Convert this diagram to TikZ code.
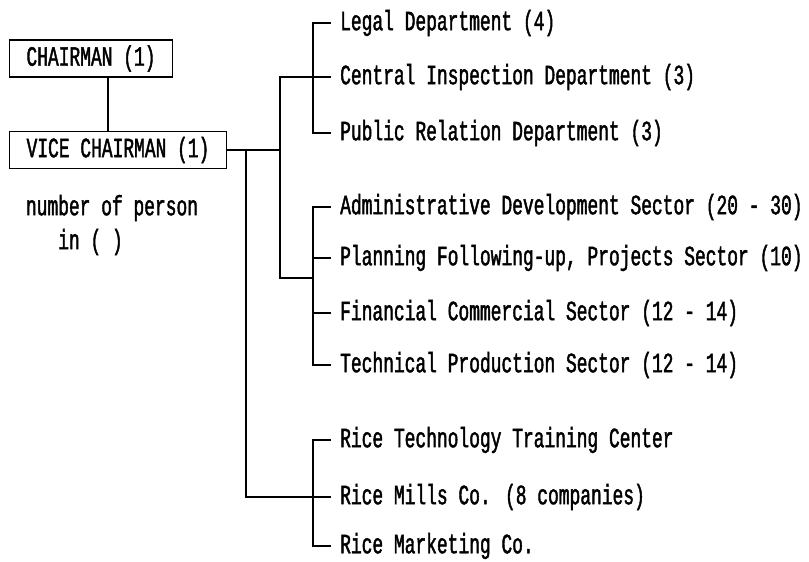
\documentclass[tikz,border=0pt]{standalone}
\usepackage{fontspec}
\newfontfamily\orgfont[FakeStretch=0.64,FakeBold=1.5]{Liberation Mono}
\tikzset{
	post/.style={draw, line width=1.6pt, inner xsep=17pt, minimum height=37pt},
	unit/.style={anchor=west, inner xsep=9pt},
	link/.style={line width=1.5pt}
}
\begin{document}
\begin{tikzpicture}[x=1pt, y=-1pt, font=\orgfont\fontsize{28}{34}\selectfont]
		\useasboundingbox (0,0) rectangle (809,562);

		% Top posts
		\node[post] (chair) at (91, 58.5) {CHAIRMAN (1)};
		\node[post] (vice) at (118, 150) {VICE CHAIRMAN (1)};
		\node[align=left, inner sep=0pt] (note) at (112, 225) {number of person\\\phantom{nnn}in ( )};

		% Departments
		\node[unit] (legal) at (331, 23) {Legal Department (4)};
		\node[unit] (inspect) at (331, 77) {Central Inspection Department (3)};
		\node[unit] (relation) at (331, 133) {Public Relation Department (3)};

		% Sectors
		\node[unit] (admin) at (331, 207) {Administrative Development Sector (20 - 30)};
		\node[unit] (plan) at (331, 258) {Planning Following-up, Projects Sector (10)};
		\node[unit] (finance) at (331, 313) {Financial Commercial Sector (12 - 14)};
		\node[unit] (techprod) at (331, 365) {Technical Production Sector (12 - 14)};

		% Companies
		\node[unit] (training) at (331, 440) {Rice Technology Training Center};
		\node[unit] (mills) at (331, 497) {Rice Mills Co. (8 companies)};
		\node[unit] (marketing) at (331, 546) {Rice Marketing Co.};

		% Junctions
		\coordinate (stem) at (108, 0);
		\coordinate (ja) at (246, 150);
		\coordinate (jb) at (280, 150);
		\coordinate (b1) at (313, 77);
		\coordinate (b2) at (313, 278);
		\coordinate (b3) at (313, 497);

		% Main lines
		\draw[link] (stem |- chair.south) -- (stem |- vice.north);
		\draw[link] (vice.east) -- (jb);
		\draw[link] (jb) |- (inspect.west);
		\draw[link] (jb) |- (b2);
		\draw[link] (ja) |- (mills.west);

		% Brackets
		\draw[link] (legal.west) -| (b1) |- (relation.west);
		\draw[link] (admin.west) -| (b2) |- (techprod.west);
		\draw[link] (plan.west) -- (plan.west -| b2);
		\draw[link] (finance.west) -- (finance.west -| b2);
		\draw[link] (training.west) -| (b3) |- (marketing.west);
	\end{tikzpicture}
\end{document}
